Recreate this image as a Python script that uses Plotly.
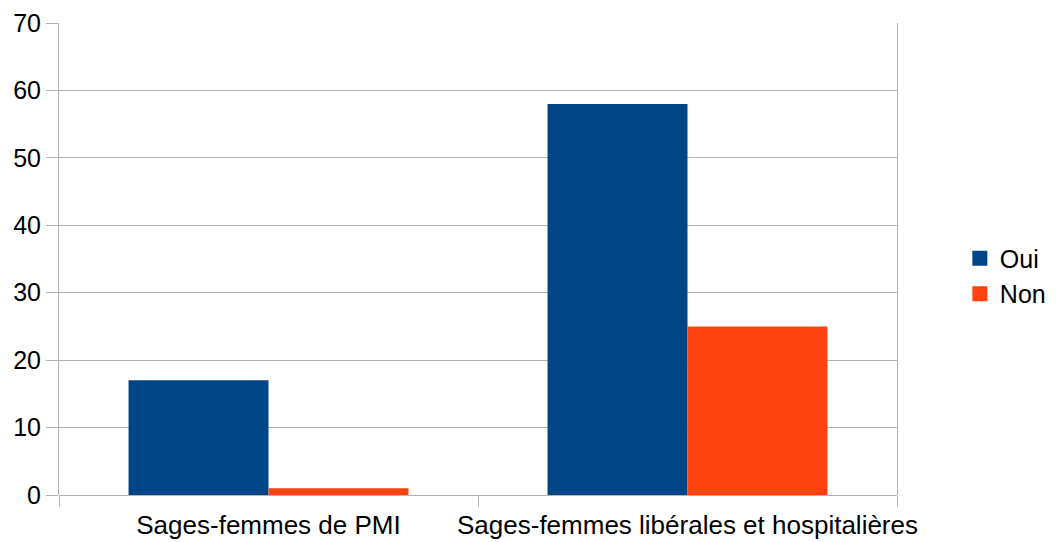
import plotly.graph_objects as go

categories = ["Sages-femmes de PMI", "Sages-femmes libérales et hospitalières"]
oui = [17, 58]
non = [1, 25]
series_names = ["Oui", "Non"]
colors = ["#004586", "#ff420e"]
y_ticks = [0, 10, 20, 30, 40, 50, 60, 70]

grid = "#b3b3b3"
font = dict(family="Liberation Sans, Arial, sans-serif", size=25, color="#000000")

fig = go.Figure()
for name, vals, col in zip(series_names, [oui, non], colors):
    fig.add_trace(go.Bar(name=name, x=categories, y=vals, showlegend=False,
                         marker=dict(color=col, line=dict(width=0))))
for name, col in zip(series_names, colors):
    fig.add_trace(go.Scatter(name=name, x=[None], y=[None], mode="markers",
                             marker=dict(symbol="square", size=15, color=col)))

fig.update_layout(
    width=1040, height=534,
    margin=dict(l=51, r=151, t=15, b=47, autoexpand=False),
    paper_bgcolor="white", plot_bgcolor="white",
    barmode="group", bargap=0.332, bargroupgap=0,
    font=font,
    showlegend=True,
    legend=dict(x=1.075, y=0.464, xanchor="left", yanchor="middle",
                font=dict(size=25), itemwidth=30, tracegroupgap=0,
                bgcolor="rgba(0,0,0,0)"),
)
fig.update_xaxes(
    type="category", tickson="boundaries", ticks="outside", ticklen=11,
    tickcolor=grid, tickwidth=1, showgrid=False, showline=False,
    tickfont=dict(size=26), range=[-0.5, 1.5], tickangle=0, automargin=False,
    ticklabelstandoff=12,
)
fig.update_yaxes(
    range=[0, 70], tickvals=y_ticks, ticks="outside", ticklen=12, tickcolor=grid,
    showgrid=True, gridcolor=grid, gridwidth=1,
    zeroline=True, zerolinecolor=grid, zerolinewidth=1,
    showline=True, linecolor=grid, linewidth=1, mirror=True,
    tickfont=dict(size=25), automargin=False,
)

fig.write_html("out.html")
